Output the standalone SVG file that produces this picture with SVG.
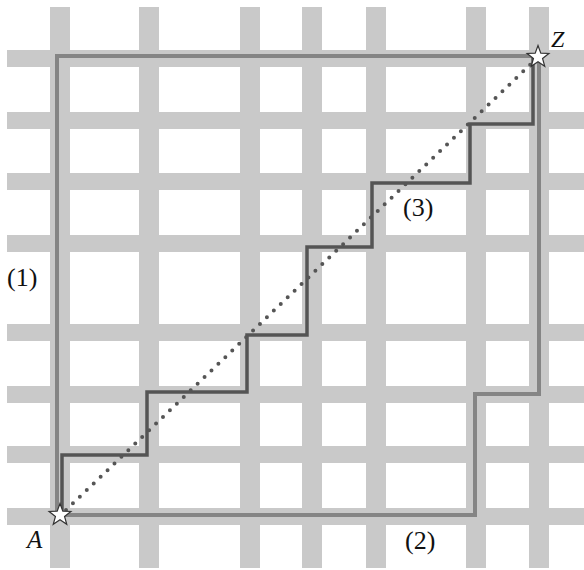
<svg xmlns="http://www.w3.org/2000/svg" width="584" height="570" viewBox="0 0 584 570">
<style>
.bar{fill:#c9c9c9}
.route{fill:none;stroke:#858585;stroke-width:4;stroke-linejoin:miter}
.stair{fill:none;stroke:#555;stroke-width:3.5;stroke-linejoin:miter}
.dots{fill:none;stroke:#555;stroke-width:4;stroke-linecap:round;stroke-dasharray:0 9.6}
.star{fill:#fff;stroke:#333;stroke-width:1.2;stroke-linejoin:miter}
</style>
<defs>
<polygon id="star" class="star" points="0,-11.5 2.8,-3.9 10.9,-3.55 4.55,1.48 6.76,9.3 0,4.8 -6.76,9.3 -4.55,1.48 -10.9,-3.55 -2.8,-3.9"/>
</defs>
<g id="grid">
<rect class="bar" x="7" y="50" width="577" height="17"/>
<rect class="bar" x="7" y="112" width="577" height="17"/>
<rect class="bar" x="7" y="173" width="577" height="17"/>
<rect class="bar" x="7" y="235" width="577" height="17"/>
<rect class="bar" x="7" y="324" width="577" height="17"/>
<rect class="bar" x="7" y="386" width="577" height="17"/>
<rect class="bar" x="7" y="446" width="577" height="17"/>
<rect class="bar" x="7" y="508" width="577" height="17"/>
<rect class="bar" x="50" y="7" width="20" height="561"/>
<rect class="bar" x="139" y="7" width="20" height="561"/>
<rect class="bar" x="240" y="7" width="20" height="561"/>
<rect class="bar" x="302" y="7" width="20" height="561"/>
<rect class="bar" x="366" y="7" width="20" height="561"/>
<rect class="bar" x="466" y="7" width="20" height="561"/>
<rect class="bar" x="529" y="7" width="20" height="561"/>
</g>
<g id="connectors">
<path id="route1" class="route" d="M57,516 V56 H538"/>
<path id="route2" class="route" d="M60,515 H475 V394 H539 V56"/>
<path id="route3" class="stair" d="M62,516 V455 H147 V392 H247 V335 H307 V247 H372 V183 H470 V124 H533 V58"/>
<path id="route-direct" class="dots" d="M66,510 L533,62"/>
</g>
<g id="node-A">
<use href="#star" x="60" y="515"/>
<text x="27" y="548" font-family="Liberation Serif, Times New Roman, serif" font-size="25" font-style="italic" fill="#111">A</text>
</g>
<g id="node-Z">
<use href="#star" x="538" y="57"/>
<text x="551" y="47" font-family="Liberation Serif, Times New Roman, serif" font-size="24" font-style="italic" fill="#111">Z</text>
</g>
<g id="labels" font-family="Liberation Serif, Times New Roman, serif" font-size="26" fill="#111">
<text x="7" y="286">(1)</text>
<text x="405" y="549">(2)</text>
<text x="403" y="216">(3)</text>
</g>
</svg>
